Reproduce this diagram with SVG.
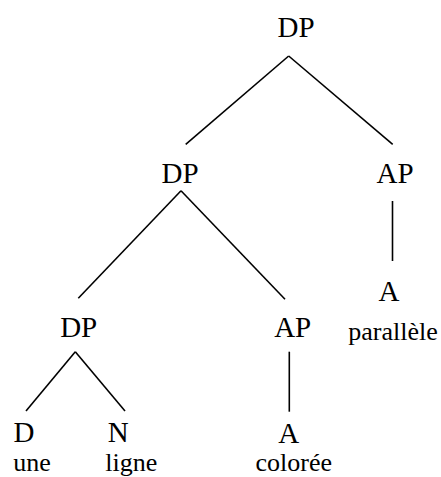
<svg xmlns="http://www.w3.org/2000/svg" width="441" height="477" viewBox="0 0 441 477">
<style>
text{font-family:'Liberation Serif','Times New Roman',Times,'DejaVu Serif',serif;fill:#000;text-anchor:middle}
.lbl{font-size:29px}
.wd{font-size:26px}
.edge{stroke:#000;stroke-width:1.6;fill:none}
</style>
<rect width="441" height="477" fill="#fff"/>
<g id="connectors">
<line class="edge" x1="288.7" y1="56" x2="185.7" y2="144.3"/>
<line class="edge" x1="288.7" y1="56" x2="392.7" y2="144.3"/>
<line class="edge" x1="181" y1="190.7" x2="78.3" y2="298.3"/>
<line class="edge" x1="181" y1="190.7" x2="285" y2="299.3"/>
<line class="edge" x1="392.5" y1="201" x2="392.5" y2="261"/>
<line class="edge" x1="75.3" y1="351.7" x2="26" y2="411"/>
<line class="edge" x1="75.3" y1="351.7" x2="125" y2="411"/>
<line class="edge" x1="289.3" y1="351.7" x2="289.3" y2="411.7"/>
</g>
<g id="dp1"><text class="lbl" x="296" y="37" font-family="Liberation Serif">DP</text></g>
<g id="dp2"><text class="lbl" x="180" y="183" font-family="Liberation Serif">DP</text></g>
<g id="ap1"><text class="lbl" x="395" y="183" font-family="Liberation Serif">AP</text></g>
<g id="a1"><text class="lbl" x="389" y="301" font-family="Liberation Serif">A</text><text class="wd" x="393" y="340" font-family="Liberation Serif">parallèle</text></g>
<g id="dp3"><text class="lbl" x="78.7" y="337.3" font-family="Liberation Serif">DP</text></g>
<g id="ap2"><text class="lbl" x="292.7" y="337.3" font-family="Liberation Serif">AP</text></g>
<g id="d"><text class="lbl" x="24" y="441.7" font-family="Liberation Serif">D</text><text class="wd" x="32" y="471" font-family="Liberation Serif">une</text></g>
<g id="n"><text class="lbl" x="118.3" y="441.7" font-family="Liberation Serif">N</text><text class="wd" x="131.3" y="471" font-family="Liberation Serif">ligne</text></g>
<g id="a2"><text class="lbl" x="288.8" y="442.7" font-family="Liberation Serif">A</text><text class="wd" x="293.8" y="471" font-family="Liberation Serif">colorée</text></g>
</svg>
